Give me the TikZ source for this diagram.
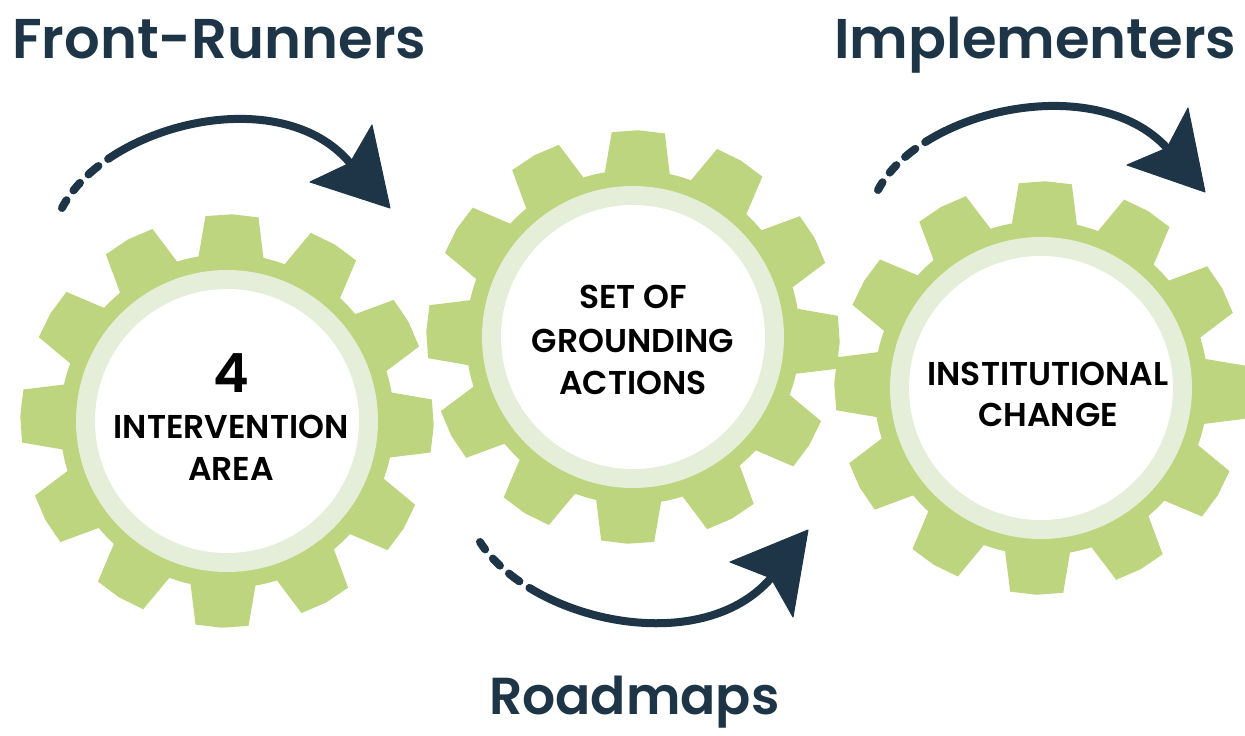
\documentclass[tikz,border=0pt]{standalone}
\usepackage{fontspec}
\newfontfamily\titlefont{Poppins SemiBold}
\definecolor{gearg}{HTML}{BDD57E}
\definecolor{ringg}{HTML}{E5EED8}
\definecolor{navy}{HTML}{1E3547}
\tikzset{
  arrowline/.style={line width=8pt, draw=navy, line cap=round,
    dash pattern=on 9pt off 12pt on 10pt off 12pt on 13pt off 12pt on 3000pt},
  headfill/.style={fill=navy, draw=navy, line width=1pt, line join=round},
  titletext/.style={font=\titlefont\fontsize{56}{56}\selectfont, text=navy, inner sep=0pt},
  geartext/.style={font=\titlefont\fontsize{33}{33}\selectfont, text=black, inner sep=0pt, anchor=base},
  bigtext/.style={font=\titlefont\fontsize{54}{54}\selectfont, text=black, inner sep=0pt, anchor=base},
  gearnode/.style={circle, minimum size=412pt, inner sep=0pt}
}
\newcommand{\drawgear}[2]{%
  \begin{scope}[shift={(#1)}, rotate=#2]
    \fill[gearg] (0,0) circle (167);
    \foreach \a in {0,30,...,330} {
      \fill[gearg] (\a-12.8:155) -- (\a-7.4:206) -- (\a:206.8) -- (\a+7.4:206) -- (\a+12.8:155) -- cycle;
    }
    \fill[ringg] (0,0) circle (151);
    \fill[white] (0,0) circle (132);
  \end{scope}}
\begin{document}
\begin{tikzpicture}[x=1pt,y=-1pt]
\useasboundingbox (0,0) rectangle (1245,736);
\fill[white] (0,0) rectangle (1245,736);

% gears
\node[gearnode] (g1) at (227,421) {};
\node[gearnode] (g2) at (633,337) {};
\node[gearnode] (g3) at (1041,388) {};
\drawgear{g1.center}{-1.4}
\drawgear{g2.center}{-1.5}
\drawgear{g3.center}{-1.2}

% gear texts
\node[bigtext] (t1a) at (231,392) {4};
\node[geartext] (t1b) at (231,438) {INTERVENTION};
\node[geartext] (t1c) at (231,480) {AREA};
\node[geartext] (t2a) at (633,308) {SET OF};
\node[geartext] (t2b) at (633,352) {GROUNDING};
\node[geartext] (t2c) at (633,394) {ACTIONS};
\node[geartext] (t3a) at (1048,385) {INSTITUTIONAL};
\node[geartext] (t3b) at (1048,426) {CHANGE};

% titles
\node[titletext, anchor=base west] (fr) at (12,58) {Front-Runners};
\node[titletext, anchor=base west] (im) at (834,58) {Implementers};
\node[titletext, anchor=base west, font=\titlefont\fontsize{52}{52}\selectfont] (rm) at (489,714) {Roadmaps};

% arrow 1
\coordinate (a1s) at (62,208);
\coordinate (a1n) at (350,163);
\coordinate (a1t) at (390,208);
\coordinate (a1b1) at (372,125);
\coordinate (a1b2) at (310,182);
\draw[arrowline] (a1s) .. controls (105,125) and (280,80) .. (a1n);
\filldraw[headfill] (a1t) -- (a1b1) -- (a1n) -- (a1b2) -- cycle;

% arrow 3
\coordinate (a3s) at (878,190);
\coordinate (a3n) at (1167,148);
\coordinate (a3t) at (1205,192);
\coordinate (a3b1) at (1188,108);
\coordinate (a3b2) at (1127,165);
\draw[arrowline] (a3s) .. controls (920,110) and (1095,70) .. (a3n);
\filldraw[headfill] (a3t) -- (a3b1) -- (a3n) -- (a3b2) -- cycle;

% arrow 2
\coordinate (a2s) at (480,542);
\coordinate (a2n) at (771,578);
\coordinate (a2t) at (808,530);
\coordinate (a2b1) at (730,562);
\coordinate (a2b2) at (793,617);
\draw[arrowline] (a2s) .. controls (530,620) and (700,660) .. (a2n);
\filldraw[headfill] (a2t) -- (a2b1) -- (a2n) -- (a2b2) -- cycle;
\end{tikzpicture}
\end{document}
